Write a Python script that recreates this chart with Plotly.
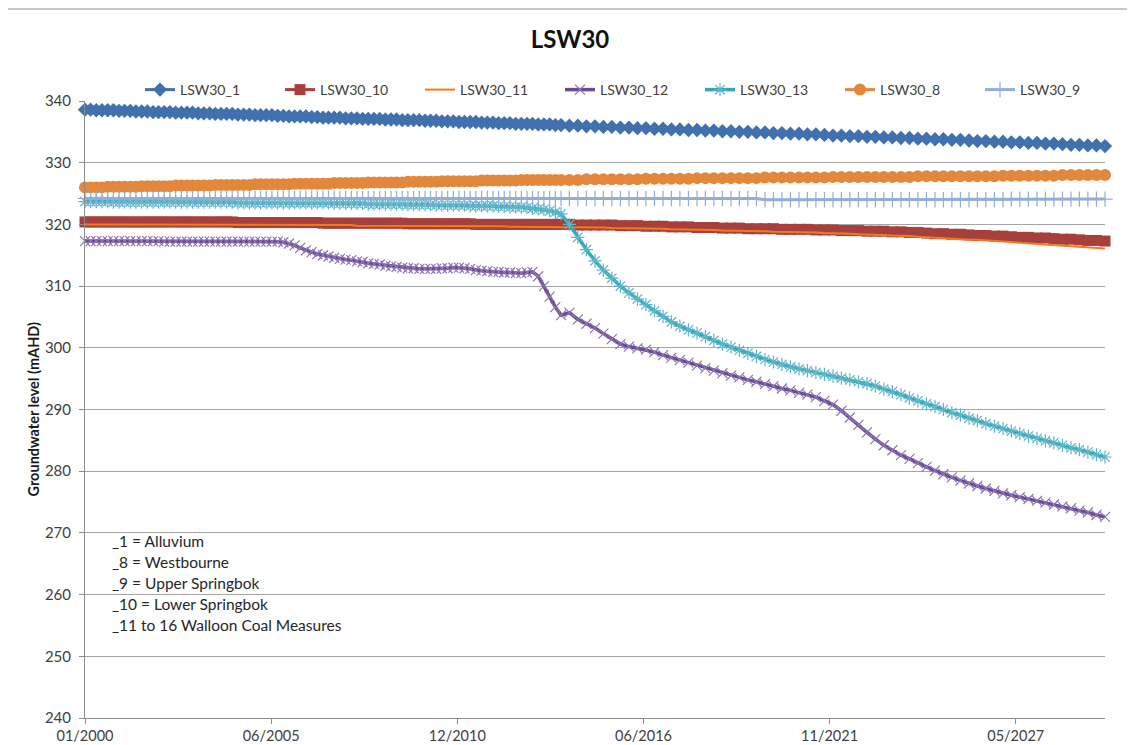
import pandas as pd
import plotly.graph_objects as go

# ---- dates: bi-monthly record 2000-2013, quarterly forecast 2014-2030 ----
dates_hist = pd.date_range("2000-01-01", periods=84, freq="2MS")
dates_fcst = pd.date_range("2014-01-01", periods=65, freq="QS")
dates = list(dates_hist) + list(dates_fcst)

# ---- series values (mAHD) ----
lsw30_1 = [
    338.6, 338.6, 338.5, 338.5, 338.5, 338.5,
    338.4, 338.4, 338.4, 338.3, 338.3, 338.3,
    338.2, 338.2, 338.2, 338.2, 338.1, 338.1,
    338.1, 338.1, 338.0, 338.0, 338.0, 337.9,
    337.9, 337.9, 337.9, 337.8, 337.8, 337.8,
    337.7, 337.7, 337.7, 337.7, 337.6, 337.6,
    337.5, 337.5, 337.5, 337.5, 337.4, 337.4,
    337.3, 337.3, 337.3, 337.3, 337.2, 337.2,
    337.2, 337.1, 337.1, 337.1, 337.1, 337.0,
    337.0, 337.0, 336.9, 336.9, 336.9, 336.9,
    336.8, 336.8, 336.8, 336.7, 336.7, 336.7,
    336.6, 336.6, 336.6, 336.6, 336.5, 336.5,
    336.5, 336.4, 336.4, 336.4, 336.3, 336.3,
    336.3, 336.3, 336.2, 336.2, 336.2, 336.1,
    336.1, 336.0, 336.0, 335.9,
    335.9, 335.8, 335.8, 335.7,
    335.7, 335.6, 335.6, 335.5,
    335.5, 335.4, 335.4, 335.3,
    335.3, 335.2, 335.2, 335.1,
    335.1, 335.0, 335.0, 334.9,
    334.9, 334.8, 334.8, 334.7,
    334.7, 334.6, 334.6, 334.5,
    334.4, 334.4, 334.3, 334.3,
    334.2, 334.2, 334.1, 334.1,
    334.0, 334.0, 333.9, 333.9,
    333.8, 333.8, 333.7, 333.7,
    333.6, 333.5, 333.5, 333.4,
    333.4, 333.3, 333.3, 333.2,
    333.2, 333.1, 333.1, 333.0,
    332.9, 332.9, 332.8, 332.8,
    332.7,
]

lsw30_10 = [
    320.4, 320.4, 320.4, 320.4, 320.4, 320.4,
    320.4, 320.4, 320.4, 320.4, 320.4, 320.4,
    320.4, 320.4, 320.4, 320.4, 320.4, 320.4,
    320.4, 320.4, 320.4, 320.4, 320.4, 320.4,
    320.4, 320.4, 320.4, 320.3, 320.3, 320.3,
    320.3, 320.3, 320.3, 320.3, 320.3, 320.3,
    320.3, 320.3, 320.3, 320.3, 320.3, 320.3,
    320.2, 320.2, 320.2, 320.2, 320.2, 320.2,
    320.2, 320.2, 320.2, 320.2, 320.2, 320.2,
    320.2, 320.2, 320.2, 320.1, 320.1, 320.1,
    320.1, 320.1, 320.1, 320.1, 320.1, 320.1,
    320.1, 320.1, 320.1, 320.0, 320.0, 320.0,
    320.0, 320.0, 320.0, 320.0, 320.0, 320.0,
    320.0, 320.0, 320.0, 320.0, 320.0, 320.0,
    320.0, 320.0, 319.9, 319.9,
    319.9, 319.9, 319.9, 319.8,
    319.8, 319.8, 319.7, 319.7,
    319.7, 319.6, 319.6, 319.6,
    319.5, 319.5, 319.5, 319.4,
    319.4, 319.4, 319.3, 319.3,
    319.3, 319.3, 319.2, 319.2,
    319.2, 319.2, 319.1, 319.1,
    319.1, 319.0, 319.0, 319.0,
    318.9, 318.9, 318.9, 318.8,
    318.8, 318.7, 318.7, 318.6,
    318.5, 318.5, 318.4, 318.4,
    318.3, 318.2, 318.2, 318.1,
    318.1, 318.0, 317.9, 317.9,
    317.8, 317.8, 317.7, 317.6,
    317.6, 317.5, 317.4, 317.4,
    317.3,
]

lsw30_11 = [
    320.0, 320.0, 320.0, 320.0, 320.0, 320.0,
    320.0, 320.0, 320.0, 320.0, 320.0, 320.0,
    320.0, 320.0, 320.0, 320.0, 320.0, 320.0,
    320.0, 320.0, 320.0, 320.0, 320.0, 320.0,
    319.9, 319.9, 319.9, 319.9, 319.9, 319.9,
    319.9, 319.9, 319.9, 319.9, 319.9, 319.9,
    319.9, 319.9, 319.9, 319.9, 319.9, 319.9,
    319.9, 319.9, 319.9, 319.9, 319.9, 319.9,
    319.8, 319.8, 319.8, 319.8, 319.8, 319.8,
    319.8, 319.8, 319.8, 319.8, 319.8, 319.8,
    319.7, 319.7, 319.7, 319.7, 319.7, 319.7,
    319.7, 319.7, 319.7, 319.7, 319.7, 319.7,
    319.7, 319.7, 319.7, 319.6, 319.6, 319.6,
    319.6, 319.6, 319.6, 319.6, 319.6, 319.6,
    319.6, 319.6, 319.5, 319.5,
    319.5, 319.5, 319.4, 319.4,
    319.4, 319.4, 319.3, 319.3,
    319.3, 319.2, 319.2, 319.2,
    319.1, 319.1, 319.1, 319.0,
    319.0, 319.0, 318.9, 318.9,
    318.9, 318.8, 318.8, 318.8,
    318.7, 318.7, 318.7, 318.6,
    318.6, 318.5, 318.5, 318.4,
    318.4, 318.3, 318.3, 318.2,
    318.2, 318.1, 318.0, 317.9,
    317.9, 317.8, 317.7, 317.6,
    317.5, 317.5, 317.4, 317.3,
    317.2, 317.1, 317.0, 316.9,
    316.8, 316.8, 316.7, 316.6,
    316.5, 316.4, 316.3, 316.2,
    316.1,
]

lsw30_12 = [
    317.3, 317.3, 317.3, 317.3, 317.3, 317.3,
    317.3, 317.3, 317.3, 317.3, 317.3, 317.3,
    317.3, 317.3, 317.2, 317.2, 317.2, 317.2,
    317.2, 317.2, 317.2, 317.2, 317.2, 317.2,
    317.2, 317.2, 317.2, 317.2, 317.2, 317.2,
    317.2, 317.2, 317.2, 317.2, 317.2, 317.1,
    316.9, 316.6, 316.2, 315.8, 315.5, 315.2,
    315.0, 314.8, 314.6, 314.4, 314.3, 314.2,
    314.0, 313.9, 313.7, 313.6, 313.5, 313.3,
    313.2, 313.1, 313.0, 312.9, 312.9, 312.8,
    312.8, 312.8, 312.8, 312.9, 312.9, 313.0,
    313.0, 312.9, 312.8, 312.6, 312.5, 312.4,
    312.3, 312.3, 312.2, 312.2, 312.1, 312.1,
    312.2, 312.3, 311.6, 310.0, 308.3, 306.6,
    305.3, 305.7, 304.6, 303.9,
    303.2, 302.3, 301.4, 300.6,
    300.2, 299.9, 299.7, 299.3,
    298.8, 298.4, 298.0, 297.6,
    297.1, 296.7, 296.3, 295.9,
    295.5, 295.2, 294.8, 294.5,
    294.1, 293.8, 293.4, 293.1,
    292.7, 292.4, 292.0, 291.4,
    290.8, 289.8, 288.7, 287.5,
    286.3, 285.2, 284.2, 283.4,
    282.6, 282.0, 281.3, 280.7,
    280.1, 279.5, 279.0, 278.5,
    278.0, 277.6, 277.2, 276.8,
    276.4, 276.1, 275.8, 275.5,
    275.2, 274.9, 274.6, 274.3,
    274.0, 273.6, 273.3, 272.9,
    272.6,
]

lsw30_13 = [
    323.7, 323.7, 323.7, 323.7, 323.7, 323.6,
    323.6, 323.6, 323.6, 323.6, 323.6, 323.6,
    323.6, 323.6, 323.6, 323.6, 323.6, 323.6,
    323.6, 323.6, 323.6, 323.6, 323.6, 323.6,
    323.6, 323.6, 323.6, 323.5, 323.5, 323.5,
    323.5, 323.5, 323.5, 323.5, 323.5, 323.5,
    323.5, 323.5, 323.5, 323.5, 323.5, 323.5,
    323.5, 323.5, 323.4, 323.4, 323.4, 323.4,
    323.4, 323.4, 323.3, 323.3, 323.3, 323.3,
    323.3, 323.3, 323.3, 323.2, 323.2, 323.2,
    323.2, 323.2, 323.1, 323.1, 323.1, 323.1,
    323.1, 323.1, 323.0, 323.0, 323.0, 323.0,
    323.0, 322.9, 322.9, 322.8, 322.8, 322.8,
    322.7, 322.6, 322.5, 322.4, 322.2, 322.0,
    321.7, 320.0, 317.9, 315.9,
    314.1, 312.6, 311.3, 310.0,
    308.9, 307.9, 307.0, 306.0,
    305.1, 304.2, 303.5, 302.9,
    302.4, 301.8, 301.2, 300.6,
    300.1, 299.6, 299.1, 298.6,
    298.1, 297.7, 297.3, 296.9,
    296.6, 296.3, 296.0, 295.7,
    295.4, 295.1, 294.8, 294.5,
    294.2, 293.8, 293.3, 292.9,
    292.4, 291.9, 291.4, 290.9,
    290.5, 290.0, 289.5, 289.1,
    288.6, 288.2, 287.7, 287.3,
    286.9, 286.5, 286.1, 285.7,
    285.3, 284.9, 284.6, 284.2,
    283.8, 283.5, 283.1, 282.7,
    282.3,
]

lsw30_8 = [
    326.0, 326.0, 326.0, 326.0, 326.1, 326.1,
    326.1, 326.1, 326.1, 326.1, 326.2, 326.2,
    326.2, 326.2, 326.2, 326.2, 326.3, 326.3,
    326.3, 326.3, 326.3, 326.3, 326.3, 326.4,
    326.4, 326.4, 326.4, 326.4, 326.4, 326.4,
    326.5, 326.5, 326.5, 326.5, 326.5, 326.5,
    326.5, 326.6, 326.6, 326.6, 326.6, 326.6,
    326.6, 326.6, 326.7, 326.7, 326.7, 326.7,
    326.7, 326.7, 326.8, 326.8, 326.8, 326.8,
    326.8, 326.8, 326.8, 326.9, 326.9, 326.9,
    326.9, 326.9, 326.9, 327.0, 327.0, 327.0,
    327.0, 327.0, 327.0, 327.0, 327.1, 327.1,
    327.1, 327.1, 327.1, 327.1, 327.1, 327.2,
    327.2, 327.2, 327.2, 327.2, 327.2, 327.2,
    327.2, 327.2, 327.2, 327.3,
    327.3, 327.3, 327.3, 327.3,
    327.3, 327.3, 327.4, 327.4,
    327.4, 327.4, 327.4, 327.4,
    327.5, 327.5, 327.5, 327.5,
    327.5, 327.5, 327.5, 327.5,
    327.6, 327.6, 327.6, 327.6,
    327.6, 327.6, 327.6, 327.6,
    327.7, 327.7, 327.7, 327.7,
    327.7, 327.7, 327.7, 327.7,
    327.7, 327.7, 327.8, 327.8,
    327.8, 327.8, 327.8, 327.8,
    327.8, 327.8, 327.8, 327.8,
    327.9, 327.9, 327.9, 327.9,
    327.9, 327.9, 327.9, 328.0,
    328.0, 328.0, 328.0, 328.0,
    328.0,
]

lsw30_9 = [
    324.2, 324.2, 324.2, 324.2, 324.2, 324.2,
    324.2, 324.2, 324.2, 324.2, 324.2, 324.2,
    324.2, 324.2, 324.2, 324.2, 324.2, 324.2,
    324.2, 324.2, 324.2, 324.2, 324.2, 324.2,
    324.2, 324.2, 324.2, 324.2, 324.2, 324.2,
    324.2, 324.2, 324.2, 324.2, 324.2, 324.2,
    324.2, 324.2, 324.2, 324.2, 324.2, 324.2,
    324.2, 324.2, 324.2, 324.2, 324.2, 324.2,
    324.2, 324.2, 324.2, 324.2, 324.2, 324.2,
    324.2, 324.2, 324.2, 324.2, 324.2, 324.2,
    324.2, 324.2, 324.2, 324.2, 324.2, 324.2,
    324.2, 324.2, 324.2, 324.2, 324.2, 324.2,
    324.2, 324.2, 324.2, 324.2, 324.2, 324.2,
    324.2, 324.2, 324.2, 324.2, 324.2, 324.2,
    324.2, 324.2, 324.2, 324.2,
    324.2, 324.2, 324.2, 324.2,
    324.2, 324.2, 324.2, 324.2,
    324.2, 324.2, 324.2, 324.2,
    324.2, 324.2, 324.2, 324.2,
    324.2, 324.2, 324.2, 324.2,
    324.0, 324.0, 324.0, 324.0,
    324.0, 324.0, 324.0, 324.0,
    324.0, 324.0, 324.0, 324.0,
    324.0, 324.0, 324.0, 324.0,
    324.0, 324.0, 324.0, 324.0,
    324.0, 324.0, 324.0, 324.0,
    324.0, 324.0, 324.0, 324.0,
    324.0, 324.1, 324.1, 324.1,
    324.1, 324.1, 324.1, 324.1,
    324.1, 324.1, 324.1, 324.1,
    324.1,
]

# ---- axis ticks ----
x_tick_dates = ["2000-01-01", "2005-06-23", "2010-12-14",
                "2016-06-05", "2021-11-25", "2027-05-18"]
x_tick_labels = ["01/2000", "06/2005", "12/2010", "06/2016", "11/2021", "05/2027"]

note_lines = ["_1 = Alluvium", "_8 = Westbourne", "_9 = Upper Springbok",
              "_10 = Lower Springbok", "_11 to 16 Walloon Coal Measures"]

FONT = "Lato"
OFF = 8  # page body margin offset of the rendered figure

fig = go.Figure()

def add(name, y, line_color, line_width, symbol=None, msize=None,
        mcolor=None, mline=None):
    mode = "lines+markers" if symbol else "lines"
    marker = None
    if symbol:
        marker = dict(symbol=symbol, size=msize, color=mcolor)
        if mline is not None:
            marker["line"] = dict(color=mline, width=1.2)
    fig.add_trace(go.Scatter(
        x=dates, y=y, name=name, mode=mode,
        line=dict(color=line_color, width=line_width),
        marker=marker, cliponaxis=False))

add("LSW30_1", lsw30_1, "#4170AE", 3, "diamond", 11, "#4170AE")
add("LSW30_10", lsw30_10, "#A7403C", 3, "square", 11, "#A7403C")
add("LSW30_11", lsw30_11, "#F27A1E", 2)
add("LSW30_12", lsw30_12, "#6A4C93", 3.5, "x-thin-open", 10, "#8F75B5", "#8F75B5")
add("LSW30_13", lsw30_13, "#35A2B5", 3.5, "asterisk-open", 11, "#5BB6C8", "#5BB6C8")
add("LSW30_8", lsw30_8, "#E2873B", 3, "circle", 12, "#E2873B")
add("LSW30_9", lsw30_9, "#93ACD8", 3, "cross-thin-open", 11, "#93ACD8", "#93ACD8")

annotations = []
for i, txt in enumerate(note_lines):
    annotations.append(dict(
        text=txt, xref="paper", yref="paper",
        x=(110 - 85) / 1020, y=(718 - (541 + 21 * i)) / 617,
        xanchor="left", yanchor="middle", showarrow=False,
        font=dict(family=FONT, size=15.5, color="#262626")))
annotations.append(dict(
    text="<b>Groundwater level (mAHD)</b>", xref="paper", yref="paper",
    x=(33 - 85) / 1020, y=0.5, xanchor="center", yanchor="middle",
    textangle=-90, showarrow=False,
    font=dict(family=FONT, size=14.5, color="#1a1a1a")))

fig.update_layout(
    width=1135, height=745,
    margin=dict(l=85 - OFF, r=30 + OFF, t=101 - OFF, b=27 + OFF,
                autoexpand=False),
    paper_bgcolor="white", plot_bgcolor="white",
    font=dict(family=FONT, size=14, color="#404040"),
    title=dict(text="<b>LSW30</b>", x=(570 - OFF) / 1135, xref="container",
               y=1 - (40 - OFF) / 745, yanchor="middle", xanchor="center",
               font=dict(family=FONT, size=24, color="#111111")),
    showlegend=True,
    legend=dict(orientation="h", x=(140 - 85) / 1020, xanchor="left",
                y=(718 - 90) / 617, yanchor="middle",
                entrywidth=95, entrywidthmode="pixels",
                font=dict(family=FONT, size=14, color="#404040"),
                bgcolor="rgba(0,0,0,0)", tracegroupgap=0),
    xaxis=dict(type="date", range=["2000-01-01", "2030-01-01"],
               tickvals=x_tick_dates, ticktext=x_tick_labels,
               showgrid=False, showline=True, linecolor="#8C8C8C",
               linewidth=1, ticks="outside", ticklen=5, tickcolor="#8C8C8C",
               tickfont=dict(family=FONT, size=14.5, color="#404040"),
               zeroline=False, automargin=False),
    yaxis=dict(range=[240, 340], dtick=10, tick0=240,
               showgrid=True, gridcolor="#A6A6A6", gridwidth=1,
               showline=True, linecolor="#8C8C8C", linewidth=1,
               ticks="outside", ticklen=5, tickcolor="#8C8C8C",
               ticklabelstandoff=5,
               tickfont=dict(family=FONT, size=15, color="#404040"),
               zeroline=False, automargin=False),
    annotations=annotations,
    shapes=[dict(type="rect", xref="paper", yref="paper",
                 x0=(7 - 85) / 1020, x1=1.05, y0=-0.08, y1=(718 - 9) / 617,
                 line=dict(color="#8C8C8C", width=1), fillcolor="rgba(0,0,0,0)",
                 layer="below")],
)

fig.write_html("out.html")
